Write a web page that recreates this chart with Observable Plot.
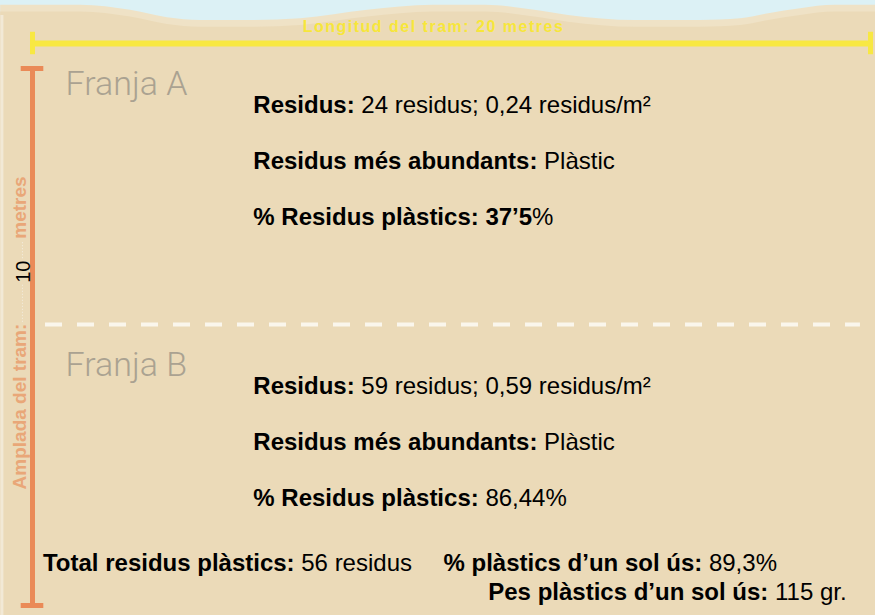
<!DOCTYPE html>
<html><head><meta charset="utf-8">
<script src="https://cdn.jsdelivr.net/npm/d3@7"></script>
<script src="https://cdn.jsdelivr.net/npm/@observablehq/plot@0.6"></script>
<style>
body{margin:0;background:#ebdab8;}
#chart svg{display:block}
</style></head><body><div id="chart"></div>
<script>
// ---- data ----
const franges = ["Franja A", "Franja B"];
const residus = [24, 59];
const densitat = ["0,24", "0,59"];
const abundants = ["Plàstic", "Plàstic"];
const pctPlastics = ["37’5", "86,44"];
const totalPlastics = 56;
const pctSolUs = "89,3";
const pesSolUs = 115;
const longitud = 20;   // metres
const amplada = 10;    // metres
// shoreline profile at the top (metres along / across the stretch)
const waveX = [-0.76, 1.15, 2.34, 3.22, 4.01, 5.20, 6.40, 8.00, 9.57, 10.81, 11.89, 12.79, 14.39, 15.94, 16.90, 17.57, 18.33, 19.16, 20.12];
const waveY = [10.68, 10.68, 10.59, 10.46, 10.41, 10.41, 10.44, 10.59, 10.68, 10.68, 10.60, 10.50, 10.41, 10.41, 10.44, 10.53, 10.62, 10.68, 10.68];

// ---- colours ----
const sand = "#ebdab8", sky = "#dcf1f5", orange = "#ea8a57", orangeText = "#e9a778",
      yellow = "#f8e842", grey = "#aaa291";
const font = "'Liberation Sans', Arial, sans-serif";

const wave = waveX.map((x, i) => ({x, y: waveY[i]}));
const stripTop = i => amplada - i * amplada / 2;
const rows = franges.flatMap((f, i) => [
  {y: stripTop(i) - 1.1, b: "Residus:", r: ` ${residus[i]} residus; ${densitat[i]} residus/m²`},
  {y: stripTop(i) - 2.1, b: "Residus més abundants:", r: ` ${abundants[i]}`},
  i === 0
    ? {y: stripTop(i) - 3.1, b: `% Residus plàstics: ${pctPlastics[i]}`, r: "%"}
    : {y: stripTop(i) - 3.1, b: "% Residus plàstics:", r: ` ${pctPlastics[i]}%`}
]);
const totalsLeft = [
  {x: 0.25, y: 0.75, b: "Total residus plàstics:", r: ` ${totalPlastics} residus`},
  {x: 9.81, y: 0.75, b: "% plàstics d’un sol ús:", r: ` ${pctSolUs}%`}
];
const totalsRight = [
  {x: 19.43, y: 0.23, b: "Pes plàstics d’un sol ús:", r: ` ${pesSolUs} gr.`}
];
const topOrange = 9.555;
const mixed = d => d.b + "|" + d.r;

const chart = Plot.plot({
  width: 875, height: 615, margin: 0,
  x: {domain: [0, longitud], range: [32, 870], axis: null},
  y: {domain: [0, amplada], range: [605, 43], axis: null},
  style: {background: sky, fontFamily: font},
  marks: [
    Plot.areaY(wave, {x: "x", y1: -1, y2: "y", fill: "#efe2c6", curve: "monotone-x"}),
    Plot.areaY(wave, {x: "x", y1: -1, y2: d => d.y - 0.12, fill: sand, curve: "monotone-x"}),
    Plot.ruleX([-0.73], {y1: -1, y2: 10.5, stroke: "#f2e9d6", strokeWidth: 3}),
    // longitud (yellow)
    Plot.ruleY([amplada], {x1: 0, x2: longitud, stroke: yellow, strokeWidth: 6}),
    Plot.ruleX([0, longitud], {y1: amplada - 0.2, y2: amplada + 0.2, stroke: yellow, strokeWidth: 5}),
    Plot.text([`Longitud del tram: ${longitud} metres`], {x: 9.57, y: 10.3, fill: "#f7e63a", fontWeight: "bold", fontSize: 16}),
    // amplada (orange)
    Plot.ruleX([0], {y1: 0, y2: topOrange, stroke: orange, strokeWidth: 5}),
    Plot.ruleY([0, topOrange], {x1: -0.27, x2: 0.27, stroke: orange, strokeWidth: 5}),
    Plot.ruleX([-0.24], {y1: 5.04, y2: 5.71, stroke: "#f4eee2", strokeWidth: 1, strokeDasharray: "1,2"}),
    Plot.ruleX([-0.24], {y1: 6.17, y2: 6.49, stroke: "#f4eee2", strokeWidth: 1, strokeDasharray: "1,2"}),
    Plot.text(["Amplada del tram:"], {x: -0.3, y: 3.54, rotate: -90, fill: orangeText, fontWeight: "bold", fontSize: 19}),
    Plot.text([String(amplada)], {x: -0.22, y: 5.94, rotate: -90, fill: "black", fontSize: 20}),
    Plot.text(["metres"], {x: -0.3, y: 7.08, rotate: -90, fill: orangeText, fontWeight: "bold", fontSize: 19}),
    // strip divider
    Plot.ruleY([amplada / 2], {x1: 0.31, x2: 19.76, stroke: "#faf6ec", strokeWidth: 4, strokeDasharray: "17,15"}),
    // strip names
    Plot.text(franges, {x: 0.79, y: (d, i) => stripTop(i) - 0.73, text: d => d, textAnchor: "start",
      fill: grey, fontSize: 34, fontWeight: 300, fontFamily: "Roboto, sans-serif"}),
    // stats
    Plot.text(rows, {x: 5.27, y: "y", text: mixed, textAnchor: "start", fontSize: 24, fill: "black"}),
    Plot.text(totalsLeft, {x: "x", y: "y", text: mixed, textAnchor: "start", fontSize: 24, fill: "black"}),
    Plot.text(totalsRight, {x: "x", y: "y", text: mixed, textAnchor: "end", fontSize: 24, fill: "black"})
  ]
});

// split "bold|regular" into two tspans
d3.select(chart).selectAll("text").each(function () {
  const s = this.textContent;
  if (s.includes("Longitud del tram")) this.style.letterSpacing = "1.5px";
  if (!s.includes("|")) return;
  const [b, r] = s.split("|");
  const t = d3.select(this).text("").style("white-space", "pre");
  t.append("tspan").attr("font-weight", "bold").text(b);
  t.append("tspan").attr("font-weight", "normal").text(r);
});

document.getElementById("chart").append(chart);
</script></body></html>
